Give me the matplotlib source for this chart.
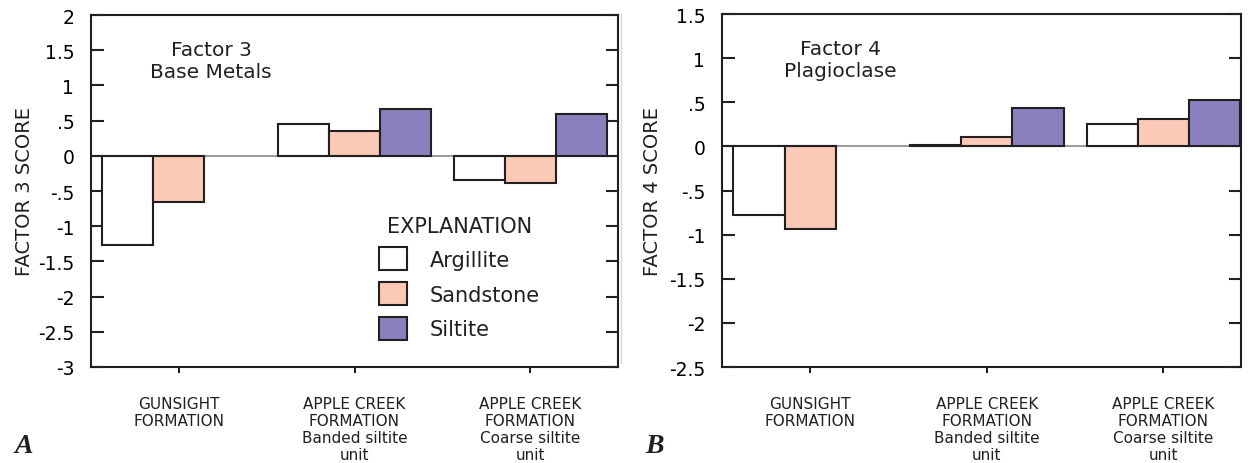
import numpy as np
import matplotlib.pyplot as plt
from matplotlib.patches import Patch
from matplotlib.lines import Line2D

# rock-type factor scores by formation / unit
groups = [
    "GUNSIGHT\nFORMATION",
    "APPLE CREEK\nFORMATION\nBanded siltite\nunit",
    "APPLE CREEK\nFORMATION\nCoarse siltite\nunit",
]
rock_types = ["Argillite", "Sandstone", "Siltite"]

f3_argillite = [-1.26, 0.45, -0.35]
f3_sandstone = [-0.66, 0.35, -0.38]
f3_siltite = [np.nan, 0.66, 0.59]

f4_argillite = [-0.78, 0.02, 0.25]
f4_sandstone = [-0.94, 0.11, 0.31]
f4_siltite = [np.nan, 0.44, 0.53]

f3_yticks = [2, 1.5, 1, 0.5, 0, -0.5, -1, -1.5, -2, -2.5, -3]
f4_yticks = [1.5, 1, 0.5, 0, -0.5, -1, -1.5, -2, -2.5]

COLORS = ["white", "#fbc9b6", "#8881bd"]
INK = "#231f20"
FONT = "DejaVu Sans"
plt.rcParams["font.family"] = FONT


def tick_label(v):
    s = f"{v:g}"
    return s.replace("0.", ".")


def draw_panel(ax, series, yticks, ylabel, title, xlim, label_x):
    x = np.arange(len(groups))
    w = 0.29
    ax.axhline(0, color="#9d9d9d", lw=1.5, zorder=1)
    for i, vals in enumerate(series):
        ax.bar(x + (i - 1) * w, vals, w, color=COLORS[i], edgecolor=INK,
               linewidth=1.5, zorder=2, label=rock_types[i])
    ax.set_xlim(*xlim)
    ax.set_ylim(min(yticks), max(yticks))
    ax.set_yticks(yticks)
    ax.set_yticklabels([tick_label(v) for v in yticks], fontsize=13.5)
    ax.tick_params(axis="y", direction="in", left=True, right=True,
                   length=9, width=1.5, color=INK, pad=12)
    ax.set_xticks(x)
    ax.set_xticklabels(groups, fontsize=11, color=INK)
    for lab in ax.get_xticklabels():
        lab.set_linespacing(1.15)
    ax.tick_params(axis="x", direction="out", length=4, width=1.5,
                   color=INK, pad=17)
    for sp in ax.spines.values():
        sp.set_linewidth(1.5)
        sp.set_color(INK)
    ax.set_ylabel(ylabel, fontsize=14, color=INK)
    ax.yaxis.set_label_coords(label_x, 0.5)
    ax.text(0.228, 0.93, title, transform=ax.transAxes, ha="center",
            va="top", fontsize=14.5, color=INK, linespacing=1.2)


fig = plt.figure(figsize=(12.49, 4.64), dpi=100)
axA = fig.add_axes([91 / 1249, 96 / 464, 527 / 1249, 352 / 464])
axB = fig.add_axes([722 / 1249, 96 / 464, 519 / 1249, 353 / 464])

draw_panel(axA, [f3_argillite, f3_sandstone, f3_siltite], f3_yticks,
           "FACTOR 3 SCORE", "Factor 3\nBase Metals", (-0.5, 2.5), -0.109)
draw_panel(axB, [f4_argillite, f4_sandstone, f4_siltite], f4_yticks,
           "FACTOR 4 SCORE", "Factor 4\nPlagioclase", (-0.5, 2.44), -0.115)

# explanation box for the rock types
handles = [Patch(facecolor=c, edgecolor=INK, linewidth=1.5) for c in COLORS]
leg = axA.legend(handles, rock_types, title="EXPLANATION", loc="upper left",
                 bbox_to_anchor=(0.546, 0.43), frameon=False, fontsize=15,
                 title_fontsize=15, handlelength=1.35, handleheight=1.35,
                 handletextpad=1.1, labelspacing=0.55, borderpad=0,
                 borderaxespad=0)
for t in leg.get_texts():
    t.set_color(INK)
leg.get_title().set_color(INK)

# thin separator between panels
fig.add_artist(Line2D([621 / 1249, 621 / 1249], [100 / 464, 449 / 464],
                      color="#d8d8d8", lw=1))

fig.text(14 / 1249, 11 / 464, "A", fontsize=20, family="Liberation Serif",
         weight="bold", style="italic", color=INK)
fig.text(645 / 1249, 11 / 464, "B", fontsize=20, family="Liberation Serif",
         weight="bold", style="italic", color=INK)

fig.savefig("out.png", dpi=100)
